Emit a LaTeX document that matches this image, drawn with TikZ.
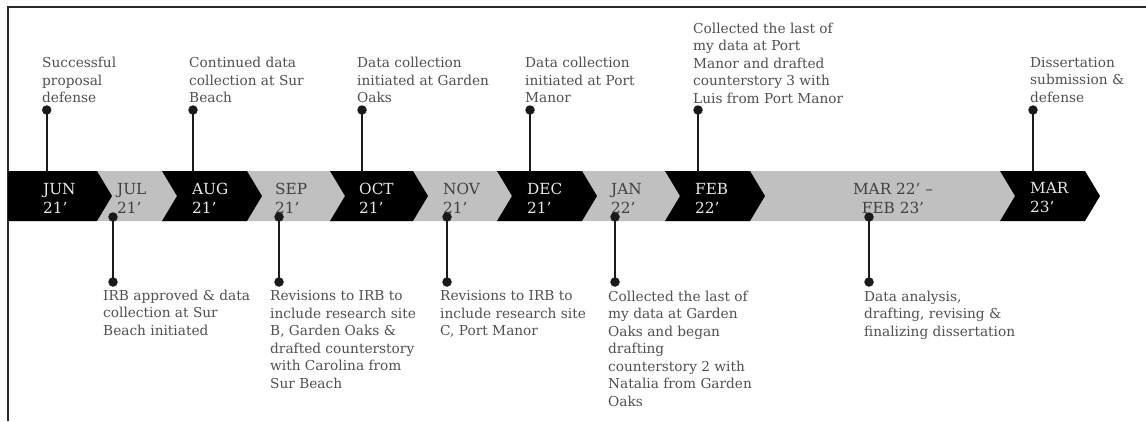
\documentclass[tikz,border=0pt]{standalone}
\usepackage{fontspec}
\setmainfont{DejaVu Serif}
\definecolor{bandgrey}{HTML}{C0C0C0}
\definecolor{txtgrey}{HTML}{505050}
\definecolor{stemc}{HTML}{1A1A1A}
\definecolor{lighttxt}{HTML}{E8E8E8}
\definecolor{darktxt}{HTML}{404040}
\definecolor{framec}{HTML}{2A2A2A}
\begin{document}
\begin{tikzpicture}[x=1pt,y=-1pt,
  evt/.style={anchor=north west, inner sep=0pt, align=left, font=\fontsize{13.7}{17.5}\selectfont, text=txtgrey},
  mon/.style={anchor=west, inner sep=0pt, align=left, font=\fontsize{15.3}{19}\selectfont},
  monl/.style={mon, text=lighttxt},
  mond/.style={mon, text=darktxt},
  dot/.style={circle, fill=stemc, inner sep=0pt, minimum size=9.5pt},
  stem/.style={draw=stemc, line width=1.8pt}]
\useasboundingbox (0,0) rectangle (1146,421);
\fill[white] (0,0) rectangle (1146,421);
% frame
\draw[line width=2.4pt, framec] (8,421) -- (8,7) -- (1146,7);
% band
\fill[bandgrey] (8,171) -- (1000,171) -- (1015,196) -- (1000,221) -- (8,221) -- cycle;
\fill[black] (8,171) -- (97,171) -- (112,196) -- (97,221) -- (8,221) -- cycle;
\foreach \a/\b in {162/247, 330/413, 497/582, 665/750, 1000/1085}{
  \fill[black] (\a,171) -- (\b,171) -- (\b+15,196) -- (\b,221) -- (\a,221) -- (\a+15,196) -- cycle;
}
% month labels
\node[monl] (mjun) at (43,198) {JUN\\21’};
\node[mond] (mjul) at (117,198) {JUL\\21’};
\node[monl] (maug) at (192,198) {AUG\\21’};
\node[mond] (msep) at (275,198) {SEP\\21’};
\node[monl] (moct) at (359,198) {OCT\\21’};
\node[mond] (mnov) at (443,198) {NOV\\21’};
\node[monl] (mdec) at (527,198) {DEC\\21’};
\node[mond] (mjan) at (611,198) {JAN\\22’};
\node[monl] (mfeb) at (695,198) {FEB\\22’};
\node[mond, anchor=center, align=center] (mmar) at (893,198) {MAR 22’ –\\FEB 23’};
\node[monl] (mmar23) at (1030,198) {MAR\\23’};
% top events
\foreach \n/\x in {1/46.7, 2/193, 3/362, 4/530, 5/698, 6/1033}{
  \coordinate (b\n) at (\x,172);
  \node[dot] (t\n) at (\x,110) {};
  \draw[stem] (t\n.center) -- (b\n);
}
\node[evt] (e1) at (42,57) {Successful\\proposal\\defense};
\node[evt] (e2) at (189,57) {Continued data\\collection at Sur\\Beach};
\node[evt] (e3) at (357,57) {Data collection\\initiated at Garden\\Oaks};
\node[evt] (e4) at (525,57) {Data collection\\initiated at Port\\Manor};
\node[evt] (e5) at (693,22.5) {Collected the last of\\my data at Port\\Manor and drafted\\counterstory 3 with\\Luis from Port Manor};
\node[evt] (e6) at (1030,57) {Dissertation\\submission \&\\defense};
% bottom events
\foreach \n/\x in {1/113, 2/279, 3/447, 4/615, 5/869}{
  \node[dot] (u\n) at (\x,217) {};
  \node[dot] (v\n) at (\x,282) {};
  \draw[stem] (u\n.center) -- (v\n.center);
}
\node[evt] (f1) at (103,289.5) {IRB approved \& data\\collection at Sur\\Beach initiated};
\node[evt] (f2) at (270,290.5) {Revisions to IRB to\\include research site\\B, Garden Oaks \&\\drafted counterstory\\with Carolina from\\Sur Beach};
\node[evt] (f3) at (440,290.5) {Revisions to IRB to\\include research site\\C, Port Manor};
\node[evt] (f4) at (608,290.5) {Collected the last of\\my data at Garden\\Oaks and began\\drafting\\counterstory 2 with\\Natalia from Garden\\Oaks};
\node[evt] (f5) at (864,290.5) {Data analysis,\\drafting, revising \&\\finalizing dissertation};
\end{tikzpicture}
\end{document}
